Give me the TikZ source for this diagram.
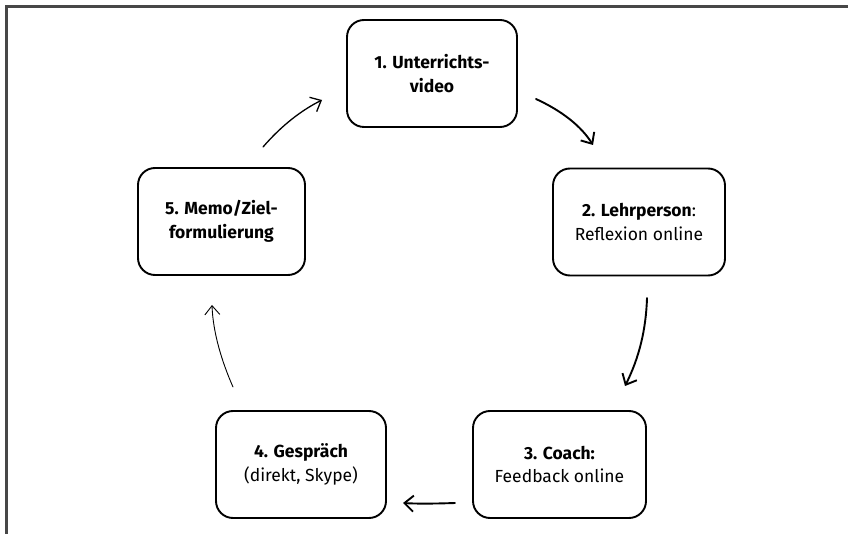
\documentclass[tikz,border=0pt]{standalone}
\usepackage{fontspec}
\setmainfont{Fira Sans}
\usetikzlibrary{arrows.meta}
\begin{document}
\begin{tikzpicture}[x=1pt,y=-1pt,
  stage/.style={draw=black, line width=1.9pt, rounded corners=17pt,
    minimum height=107pt, align=center,
    inner sep=0pt, font={\fontsize{17.5}{23.5}\selectfont}},
  flow/.style={line width=1.9pt, line cap=round,
    -{Straight Barb[length=9pt,width=16pt,line width=1.9pt]}},
  thinflow/.style={flow, line width=1.3pt,
    -{Straight Barb[length=9pt,width=16pt,line width=1.3pt]}},
  hairflow/.style={flow, line width=0.9pt,
    -{Straight Barb[length=9pt,width=15pt,line width=0.9pt]}}]
\useasboundingbox (0,0) rectangle (848,534);
% frame
\draw[line width=2.2pt, color=black!72] (6.5,534) -- (6.5,6.5) -- (848,6.5);

% stages of the cycle
\node[stage, minimum width=170pt] (s1) at (432,73.5) {\textbf{1. Unterrichts-}\\\textbf{video}};
\node[stage, minimum width=172pt] (s2) at (639,222) {\textbf{2. Lehrperson}:\\Reflexion online};
\node[stage, minimum width=173pt] (s3) at (559.5,464.5) {\textbf{3. Coach:}\\Feedback online};
\node[stage, minimum width=170pt] (s4) at (301,464.5) {\textbf{4. Gespräch}\\(direkt, Skype)};
\node[stage, minimum width=167pt] (s5) at (221.5,221.5) {\textbf{5. Memo/Ziel-}\\\textbf{formulierung}};

% connector end points
\coordinate (a1s) at (536,99);   \coordinate (a1e) at (593,145);
\coordinate (a2s) at (647,298);  \coordinate (a2e) at (625,386);
\coordinate (a3s) at (455,503);  \coordinate (a3e) at (403,503);
\coordinate (a4s) at (233,387);  \coordinate (a4e) at (212,305);
\coordinate (a5s) at (263,147);  \coordinate (a5e) at (322,100);

\draw[flow] (a1s) .. controls (562,111) and (581,126) .. (a1e);
\draw[flow] (a2s) .. controls (646,330) and (639,358) .. (a2e);
\draw[flow] (a3s) .. controls (440,503.5) and (420,504) .. (a3e);
\draw[hairflow] (a4s) .. controls (222,362) and (213,333) .. (a4e);
\draw[thinflow] (a5s) .. controls (282,125) and (302,110) .. (a5e);
\end{tikzpicture}
\end{document}
